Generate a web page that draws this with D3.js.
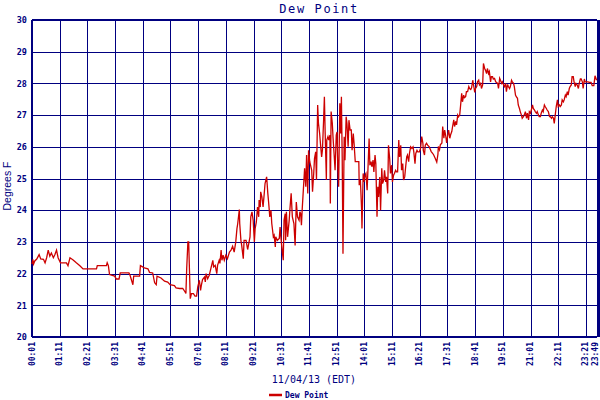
<!DOCTYPE html>
<html>
<head>
<meta charset="utf-8">
<script src="https://cdn.jsdelivr.net/npm/d3@7"></script>
<style>
  html, body { margin: 0; padding: 0; background: #fff; }
  svg { display: block; }
</style>
</head>
<body>
<div id="chart"></div>
<script>
// ---- data ----
const chartTitle = "Dew Point";
const yAxisLabel = "Degrees F";
const xAxisLabel = "11/04/13 (EDT)";
const seriesName = "Dew Point";

const xTickLabels = ["00:01","01:11","02:21","03:31","04:41","05:51","07:01","08:11","09:21","10:31",
  "11:41","12:51","14:01","15:11","16:21","17:31","18:41","19:51","21:01","22:11","23:21","23:49"];
const yTickValues = [20,21,22,23,24,25,26,27,28,29,30];

// [minutes after midnight, dew point °F]
const dewPointReadings = [
  [1,22.3],[3,22.45],[5,22.3],[8,22.4],[13,22.46],[19,22.6],[23,22.46],[30,22.45],[34,22.34],[38,22.5],
  [42,22.74],[46,22.55],[50,22.65],[55,22.5],[59,22.6],[63,22.74],[67,22.5],[73,22.34],[88,22.34],[92,22.25],
  [97,22.5],[105,22.43],[113,22.34],[122,22.25],[130,22.15],[164,22.15],[166,22.25],[189,22.25],[191,22.34],[194,22.25],
  [197,21.97],[210,21.92],[214,21.83],[221,21.83],[224,22.02],[246,22.02],[249,21.94],[256,21.65],[258,21.92],[273,21.92],
  [275,22.25],[285,22.18],[294,22.15],[298,22.04],[306,22.02],[311,21.71],[315,21.65],[317,21.92],[327,21.86],[336,21.76],
  [344,21.73],[350,21.65],[361,21.62],[365,21.55],
  [374,21.53],[382,21.53],[388,21.42],[390,21.37],[392,22.16],[395,23.0],[397,23.0],[399,22.1],[401,21.21],[404,21.37],
  [409,21.37],[413,21.29],[417,21.29],[420,21.58],[424,21.79],[427,21.47],[429,21.63],[432,21.81],[437,21.89],[439,21.74],
  [441,22.0],[445,21.84],[449,21.95],[453,22.16],[458,22.42],[460,22.21],[464,22.26],[468,22.0],[470,22.26],[474,22.42],
  [476,22.32],[479,22.74],[481,22.42],[484,22.58],[487,22.42],[491,22.58],[495,22.47],[500,22.68],[504,22.74],[508,22.86],
  [512,22.68],[516,23.0],[519,23.42],[521,23.58],[525,24.02],[526,23.58],[529,23.05],[531,22.89],[535,22.47],[537,23.05],
  [542,23.05],[546,22.76],[548,22.89],[552,23.16],[554,23.79],[557,23.95],[560,23.68],[563,23.0],[565,23.42],[568,23.63],
  [571,24.1],[574,23.79],[575,24.32],[578,24.1],[579,24.58],[582,24.42],[585,24.1],[588,24.53],[590,24.84],[594,25.05],
  [595,24.89],[597,24.53],[599,24.26],[602,23.79],[605,24.0],[607,23.58],[611,23.16],[613,23.21],[616,22.84],[617,23.16],
  [621,23.05],[626,23.11],[628,23.47],[630,23.16],[632,22.89],[636,22.42],[638,23.68],[641,23.89],[642,23.05],[644,23.95],
  [647,23.16],[651,23.68],[653,24.05],[656,24.53],[659,23.79],[663,23.58],[666,22.89],[669,24.26],[672,23.79],[676,23.68],
  [678,23.95],[680,23.89],[682,23.53],[684,24.05],[687,24.68],[690,25.32],[693,24.74],[695,25.74],[698,24.53],[700,25.89],
  [703,25.53],[705,25.42],[708,25.26],[710,24.58],[713,25.16],[715,25.63],[718,25.84],[720,24.95],[723,27.32],[725,26.74],
  [728,26.42],[730,26.11],[733,25.68],[735,25.89],[738,26.84],[740,27.58],[742,26.42],[745,24.95],[746,26.21],[749,26.32],
  [751,26.21],[754,26.37],[755,24.21],[757,27.11],[760,26.74],[762,26.26],[765,25.68],[767,25.26],[770,26.37],[772,26.47],
  [774,25.37],[776,24.74],[779,27.37],[781,26.42],[783,27.58],[785,25.68],[787,22.63],[790,26.32],[792,25.58],[795,26.95],
  [797,26.74],[800,26.0],[802,26.84],[805,26.53],[808,26.53],[810,25.89],[813,26.42],[815,26.11],[818,25.53],[823,25.53],
  [827,25.53],[828,24.79],[831,24.95],[834,24.05],[835,23.42],[838,25.16],[840,24.89],[843,25.11],[845,25.16],[848,24.63],
  [850,25.26],[853,26.26],[855,25.42],[858,25.53],[860,25.37],[863,25.58],[865,25.21],[868,25.74],[870,25.47],[873,23.79],
  [875,24.74],[877,24.42],[880,25.05],[882,24.0],[885,25.32],[887,24.84],[890,24.95],[892,25.26],[895,24.89],[897,25.05],
  [900,24.53],[902,26.05],[905,25.63],[907,25.16],[910,25.42],[912,24.89],[915,25.11],[917,25.16],[920,25.26],[922,25.21],
  [925,25.21],[928,26.21],[930,25.68],[933,26.05],[935,25.26],[938,25.47],[940,24.95],[943,25.05],[945,25.32],[948,25.68],
  [950,25.74],[953,25.53],[955,25.79],[958,26.0],[961,25.95],[964,26.0],[966,25.84],[969,25.47],[971,25.79],[974,25.89],
  [976,25.84],[980,25.84],[983,25.95],[986,26.32],[989,26.11],[990,25.89],[993,25.74],[995,26.05],[998,26.11],[1001,26.05],
  [1005,26.0],
  [1010,25.85],[1013,25.8],[1016,25.75],[1020,25.64],[1024,25.52],[1027,25.77],[1028,26.01],[1031,25.91],[1033,26.06],[1037,26.12],
  [1039,26.64],[1042,26.27],[1044,26.53],[1047,26.32],[1049,26.12],[1052,26.38],[1054,26.53],[1057,26.27],[1059,26.38],[1062,26.48],
  [1064,26.64],[1067,26.85],[1069,26.64],[1072,26.8],[1074,26.69],[1077,27.0],[1079,26.95],[1082,27.0],[1084,27.27],[1087,27.69],
  [1089,27.42],[1092,27.63],[1094,27.55],[1097,27.58],[1099,27.74],[1102,27.74],[1105,27.9],[1107,27.84],[1110,27.81],[1112,27.86],
  [1115,28.1],[1117,27.95],[1120,27.72],[1122,27.84],[1125,27.9],[1127,28.05],[1130,28.1],[1132,27.95],[1135,28.0],[1137,27.84],
  [1140,27.95],[1142,28.63],[1145,28.47],[1147,28.42],[1150,28.31],[1152,28.47],[1155,28.31],[1157,28.37],[1160,28.05],[1162,28.21],
  [1165,28.21],[1167,28.14],[1170,28.16],[1173,28.05],[1175,28.03],[1178,28.0],[1180,27.84],[1183,28.16],[1185,28.1],[1188,28.0],
  [1190,28.05],[1193,27.95],[1195,27.9],[1198,28.0],[1200,27.74],[1203,27.97],[1205,27.9],[1208,27.84],[1210,27.9],[1213,28.1],
  [1215,28.05],[1218,28.0],[1220,27.9],[1223,27.63],[1225,27.58],[1228,27.53],[1230,27.32],[1233,27.21],[1235,27.11],[1238,27.0],
  [1240,26.9],[1243,26.95],[1245,27.0],[1248,27.11],[1251,26.9],[1253,27.06],[1256,26.85],[1258,27.11],[1261,27.06],[1263,27.16],
  [1266,27.32],[1268,27.21],[1271,27.16],[1273,27.11],[1276,27.06],[1278,27.11],[1281,27.0],[1283,26.95],[1286,26.95],[1288,27.06],
  [1291,27.16],[1293,27.11],[1296,27.32],[1298,27.27],[1301,27.21],[1303,27.16],[1306,27.11],[1309,26.95],[1311,26.95],[1314,26.9],
  [1316,26.95],[1319,26.9],[1321,26.74],[1324,27.06],[1326,27.27],[1329,27.48],[1331,27.27],[1334,27.32],[1336,27.27],[1339,27.32],
  [1341,27.48],[1344,27.42],[1346,27.48],[1349,27.63],[1351,27.58],[1354,27.74],[1356,27.63],[1359,27.84],[1361,27.9],[1364,27.95],
  [1366,28.21],[1369,28.21],[1371,28.05],[1374,27.9],[1376,28.0],[1379,27.95],[1382,27.84],[1384,28.0],[1387,28.14],[1389,28.14],
  [1392,28.05],[1394,27.84],[1397,28.14],[1399,28.05],[1402,28.05],[1406,28.05],[1410,28.03],[1414,28.03],[1417,27.93],[1421,27.93],
  [1424,28.24],[1428,28.1]
];

// ---- drawing ----
const W = 600, H = 400;
const plot = { left: 32, right: 597, top: 20, bottom: 337 };
const navy = "#000080", red = "#cc0000";

const toMin = s => { const [h, m] = s.split(":").map(Number); return h * 60 + m; };
const xTickMinutes = xTickLabels.map(toMin);

const x = d3.scaleLinear().domain([xTickMinutes[0], xTickMinutes[xTickMinutes.length - 1]]).range([plot.left, plot.right]);
const y = d3.scaleLinear().domain([20, 30]).range([plot.bottom, plot.top]);

const svg = d3.select("#chart").append("svg").attr("width", W).attr("height", H);

// horizontal grid + y ticks
const yAxis = svg.append("g")
  .attr("transform", `translate(${plot.left},0)`)
  .call(d3.axisLeft(y).tickValues(yTickValues).tickFormat(d3.format("d"))
        .tickSize(-(plot.right - plot.left)).tickPadding(5));
yAxis.select(".domain").remove();
yAxis.selectAll(".tick line").attr("stroke", navy).attr("stroke-width", 1).attr("shape-rendering", "crispEdges");
yAxis.selectAll(".tick text").attr("fill", navy)
  .style("font-family", "'DejaVu Sans Mono', monospace").style("font-size", "8.5px").style("font-weight", "bold");

// vertical grid + x ticks
const xAxis = svg.append("g")
  .attr("transform", `translate(0,${plot.bottom})`)
  .call(d3.axisBottom(x).tickValues(xTickMinutes).tickFormat((d, i) => xTickLabels[i])
        .tickSize(-(plot.bottom - plot.top)).tickPadding(0));
xAxis.select(".domain").remove();
xAxis.selectAll(".tick line").attr("stroke", navy).attr("stroke-width", 1).attr("shape-rendering", "crispEdges");
xAxis.selectAll(".tick text").attr("fill", navy)
  .style("font-family", "'DejaVu Sans Mono', monospace").style("font-size", "8px").style("font-weight", "bold")
  .attr("transform", "rotate(-90)")
  .attr("text-anchor", "end")
  .attr("x", -5).attr("y", 0).attr("dy", (d, i) => i === xTickLabels.length - 1 ? "0.05em" : "0.25em");

// frame
const frame = svg.append("g").attr("fill", "none").attr("stroke", navy).attr("shape-rendering", "crispEdges");
frame.append("line").attr("x1", plot.left).attr("x2", plot.right).attr("y1", plot.top).attr("y2", plot.top).attr("stroke-width", 1.5);
frame.append("line").attr("x1", plot.left).attr("x2", plot.right).attr("y1", plot.bottom).attr("y2", plot.bottom).attr("stroke-width", 1.5);
frame.append("line").attr("x1", plot.left).attr("x2", plot.left).attr("y1", plot.top).attr("y2", plot.bottom).attr("stroke-width", 2.5);
frame.append("line").attr("x1", plot.right + 1).attr("x2", plot.right + 1).attr("y1", plot.top).attr("y2", plot.bottom).attr("stroke-width", 3);

// series
const line = d3.line().x(d => x(d[0])).y(d => y(d[1]));
svg.append("path").datum(dewPointReadings)
  .attr("fill", "none").attr("stroke", red).attr("stroke-width", 1.3).attr("stroke-linejoin", "miter")
  .attr("d", line);

// title
svg.append("text").attr("x", 319).attr("y", 13).attr("text-anchor", "middle")
  .attr("fill", navy).style("font-family", "'DejaVu Sans Mono', monospace").style("font-size", "12px")
  .style("letter-spacing", "1.6px").text(chartTitle);

// y label
svg.append("text").attr("transform", "translate(11,186) rotate(-90)").attr("text-anchor", "middle")
  .attr("fill", navy).style("font-family", "'Liberation Sans', Arial, sans-serif").style("font-size", "10.5px")
  .text(yAxisLabel);

// x label
svg.append("text").attr("x", 314).attr("y", 383).attr("text-anchor", "middle")
  .attr("fill", navy).style("font-family", "'DejaVu Sans Mono', monospace").style("font-size", "10px")
  .text(xAxisLabel);

// legend
const legend = svg.append("g").attr("transform", "translate(269,395)");
legend.append("line").attr("x1", 0).attr("x2", 13).attr("y1", 0).attr("y2", 0)
  .attr("stroke", red).attr("stroke-width", 2.5);
legend.append("text").attr("x", 16).attr("y", 3)
  .attr("fill", navy).style("font-family", "'DejaVu Sans Mono', monospace").style("font-size", "8px").style("font-weight", "bold")
  .text(seriesName);
</script>
</body>
</html>
